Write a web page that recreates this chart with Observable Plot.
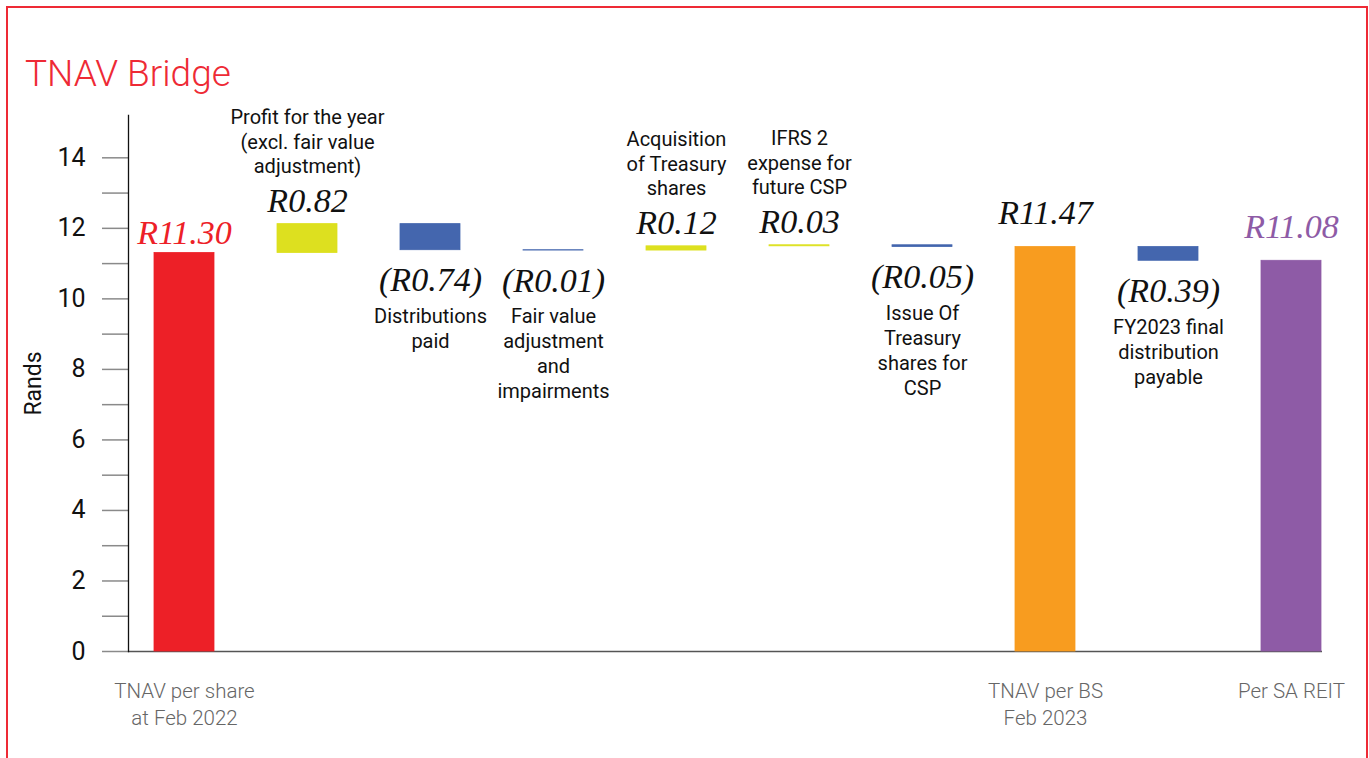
<!DOCTYPE html>
<html>
<head>
<meta charset="utf-8">
<script src="https://cdn.jsdelivr.net/npm/d3@7"></script>
<script src="https://cdn.jsdelivr.net/npm/@observablehq/plot@0.6"></script>
<style>
html, body { margin: 0; padding: 0; background: #fff; overflow: hidden; }
#frame { position: absolute; left: 6px; top: 6px; width: 1362px; height: 800px; border: 2px solid #ee2a35; border-bottom: none; box-sizing: border-box; }
#title { position: absolute; left: 25px; top: 55px; font: 300 37px Roboto, sans-serif; line-height: 37px; color: #ee2a35; white-space: nowrap; }
#chart { position: absolute; left: 0; top: 95px; }
#chart svg { overflow: visible; font-family: Roboto, sans-serif; }
</style>
</head>
<body>
<div id="frame"></div>
<div id="title">TNAV Bridge</div>
<div id="chart"></div>
<script>
const categories = ["Feb 2022", "Profit", "Distributions", "Fair value", "Acquisition", "IFRS 2", "Issue", "Feb 2023", "FY2023 final", "SA REIT"];
const kinds = ["start", "up", "down", "down", "up", "up", "down", "total", "down", "end"];
const values = [11.30, 0.82, -0.74, -0.01, 0.12, 0.03, -0.05, 11.47, -0.39, 11.08];
const valueLabels = ["R11.30", "R0.82", "(R0.74)", "(R0.01)", "R0.12", "R0.03", "(R0.05)", "R11.47", "(R0.39)", "R11.08"];
const descriptions = [
  "",
  "Profit for the year\n(excl. fair value\nadjustment)",
  "Distributions\npaid",
  "Fair value\nadjustment\nand\nimpairments",
  "Acquisition\nof Treasury\nshares",
  "IFRS 2\nexpense for\nfuture CSP",
  "Issue Of\nTreasury\nshares for\nCSP",
  "",
  "FY2023 final\ndistribution\npayable",
  ""
];
const axisLabels = ["TNAV per share\nat Feb 2022", "", "", "", "", "", "", "TNAV per BS\nFeb 2023", "", "Per SA REIT"];
const yTicks = [0, 1, 2, 3, 4, 5, 6, 7, 8, 9, 10, 11, 12, 13, 14];

const kindDomain = ["start", "up", "down", "total", "end"];
const kindColors = ["#ed2027", "#dde01f", "#4466ae", "#f89c1f", "#8e5ba6"];

// waterfall rows
let running = 0;
const rows = categories.map((c, i) => {
  const k = kinds[i], v = values[i];
  let y1, y2;
  if (k === "start" || k === "total" || k === "end") { y1 = 0; y2 = v; running = v; }
  else { y1 = running; y2 = running + v; running = y2; }
  return {cat: c, kind: k, value: v, y1, y2, top: Math.max(y1, y2), bottom: Math.min(y1, y2),
          label: valueLabels[i], desc: descriptions[i], axis: axisLabels[i]};
});

const serif = {fontFamily: "'Liberation Serif', 'DejaVu Serif', serif", fontStyle: "italic", fontSize: 34, lineAnchor: "bottom"};
const desc = {fontFamily: "Roboto, sans-serif", fontSize: 20, fill: "#111"};

const chart = Plot.plot({
  width: 1369,
  height: 663,
  marginTop: 20,
  marginBottom: 107,
  marginLeft: 128,
  marginRight: 22,
  style: {fontFamily: "Roboto, sans-serif", background: "transparent", overflow: "visible"},
  x: {domain: categories, paddingInner: 0.513, paddingOuter: 0.203, axis: null},
  y: {domain: [0, 15.2], axis: null},
  color: {domain: kindDomain, range: kindColors},
  marks: [
    Plot.ruleY([0], {stroke: "#555", strokeWidth: 1.5, insetRight: 25}),
    Plot.axisY({ticks: yTicks, tickSize: 26, tickPadding: 17, tickFormat: d => d % 2 ? "" : d,
                fontSize: 25, stroke: "#8a8a8a", fill: "#111", strokeWidth: 1.5, label: null}),
    Plot.frame({anchor: "left", stroke: "#111", strokeWidth: 1.3}),
    Plot.text(["Rands"], {frameAnchor: "left", dx: -95, rotate: -90, fontSize: 23, fill: "#111", textAnchor: "middle", lineAnchor: "middle"}),
    Plot.barY(rows, {x: "cat", y1: "y1", y2: "y2", fill: "kind", stroke: "kind", strokeWidth: 0.8}),
    // value labels
    Plot.text(rows.filter(d => d.kind === "start"), {x: "cat", y: "top", text: "label", dy: -9, fill: "#ed2027", ...serif}),
    Plot.text(rows.filter(d => d.kind === "total"), {x: "cat", y: "top", text: "label", dy: -23, fill: "#111", ...serif}),
    Plot.text(rows.filter(d => d.kind === "end"), {x: "cat", y: "top", text: "label", dy: -23, fill: "#8e5ba6", ...serif}),
    Plot.text(rows.filter(d => d.kind === "up"), {x: "cat", y: "top", text: "label", dy: -12, fill: "#111", ...serif}),
    Plot.text(rows.filter(d => d.kind === "down"), {x: "cat", y: "bottom", text: "label", dy: 41, fill: "#111", ...serif}),
    // descriptions
    Plot.text(rows.filter(d => d.kind === "up"), {x: "cat", y: "top", text: "desc", lineAnchor: "bottom", dy: -51, lineHeight: 1.23, ...desc}),
    Plot.text(rows.filter(d => d.kind === "down"), {x: "cat", y: "bottom", text: "desc", lineAnchor: "top", dy: 55, lineHeight: 1.25, ...desc}),
    // category axis labels
    Plot.text(rows.filter(d => d.axis), {x: "cat", frameAnchor: "bottom", text: "axis", lineAnchor: "top", dy: 28,
      lineHeight: 1.3, fontSize: 20.5, fontWeight: 300, fill: "#666"})
  ]
});
document.getElementById("chart").appendChild(chart);
</script>
</body>
</html>
